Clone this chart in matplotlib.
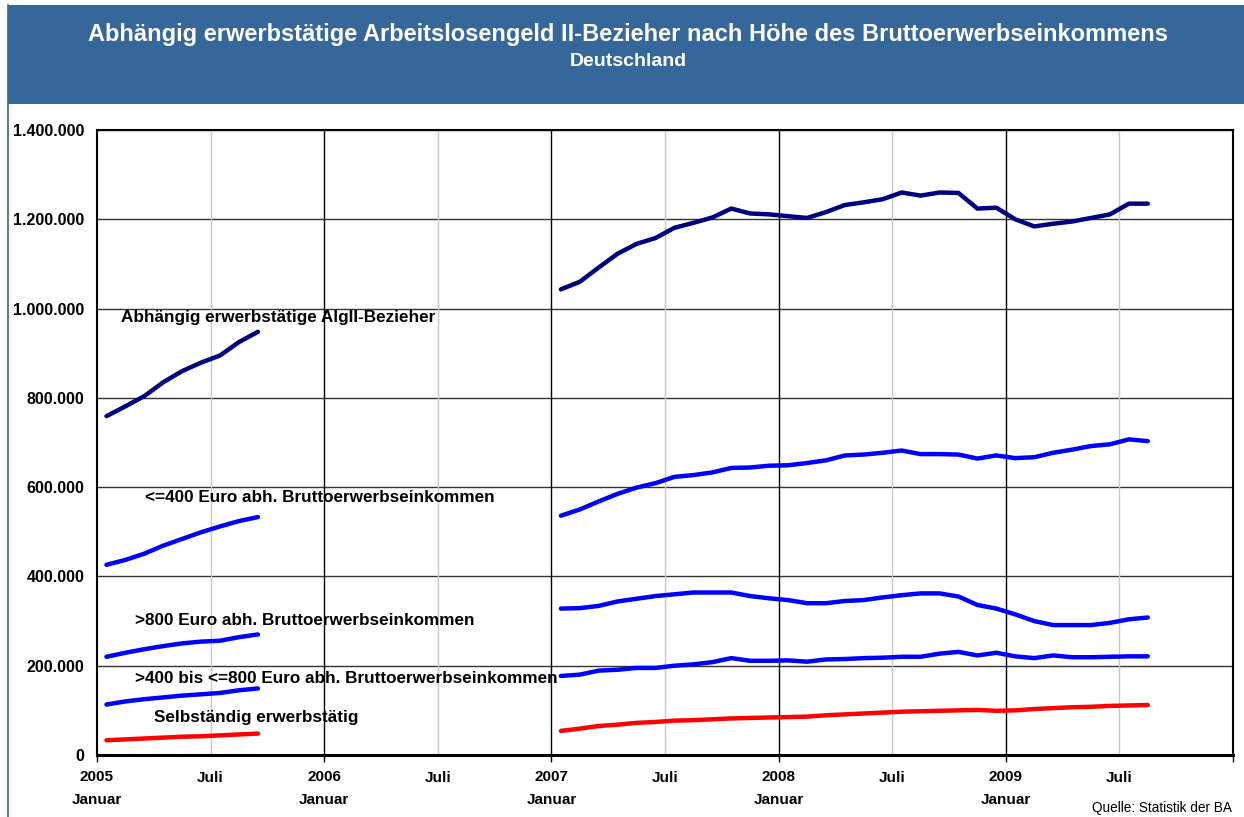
import numpy as np
import matplotlib
matplotlib.use("Agg")
import matplotlib.pyplot as plt
from matplotlib.patches import Rectangle
from matplotlib.lines import Line2D
from matplotlib.ticker import FuncFormatter, FixedLocator

plt.rcParams['font.family'] = ['Liberation Sans', 'DejaVu Sans']

# ---------------- data ----------------
# month index 0 = Jan 2005
start_a = 0      # Jan 2005
start_b = 24     # Jan 2007

algii_a = [759000, 781000, 804000, 835000, 860000, 879000, 895000, 925000, 948000]
le400_a = [426000, 437000, 451000, 469000, 484000, 499000, 512000, 524000, 533000]
gt800_a = [220000, 229000, 237000, 244000, 250000, 254000, 256000, 264000, 270000]
mid_a = [113000, 120000, 125000, 129000, 133000, 136000, 139000, 145000, 149000]
selb_a = [33000, 35000, 37000, 39000, 41000, 42000, 44000, 46000, 48000]

algii_b = [1043000, 1060000, 1092000, 1123000, 1145000, 1158000, 1181000, 1192000,
           1204000, 1224000, 1213000, 1211000, 1207000, 1203000, 1216000, 1232000,
           1238000, 1245000, 1260000, 1253000, 1260000, 1259000, 1224000, 1226000,
           1200000, 1184000, 1190000, 1195000, 1203000, 1211000, 1235000, 1235000]
le400_b = [536000, 550000, 568000, 585000, 599000, 609000, 623000, 627000,
           633000, 643000, 644000, 648000, 649000, 654000, 660000, 671000,
           673000, 677000, 682000, 674000, 674000, 673000, 664000, 671000,
           665000, 667000, 677000, 684000, 692000, 696000, 707000, 703000]
gt800_b = [328000, 329000, 334000, 344000, 350000, 356000, 360000, 364000,
           364000, 364000, 356000, 351000, 347000, 340000, 340000, 345000,
           347000, 353000, 358000, 362000, 362000, 355000, 336000, 328000,
           315000, 300000, 291000, 291000, 291000, 296000, 304000, 308000]
mid_b = [177000, 180000, 189000, 191000, 195000, 195000, 200000, 203000,
         208000, 217000, 211000, 211000, 212000, 209000, 214000, 215000,
         217000, 218000, 220000, 220000, 227000, 231000, 223000, 229000,
         221000, 217000, 223000, 219000, 219000, 220000, 221000, 221000]
selb_b = [54000, 59000, 65000, 68000, 72000, 74000, 77000, 78000,
          80000, 82000, 83000, 84000, 85000, 86000, 89000, 91000,
          93000, 95000, 97000, 98000, 99000, 100000, 101000, 99000,
          100000, 103000, 105000, 107000, 108000, 110000, 111000, 112000]

years = ["2005", "2006", "2007", "2008", "2009"]
year_sub = "Januar"
mid_label = "Juli"

series_labels = ["Abhängig erwerbstätige AlgII-Bezieher",
                 "<=400 Euro abh. Bruttoerwerbseinkommen",
                 ">800 Euro abh. Bruttoerwerbseinkommen",
                 ">400 bis <=800 Euro abh. Bruttoerwerbseinkommen",
                 "Selbständig erwerbstätig"]

title = "Abhängig erwerbstätige Arbeitslosengeld II-Bezieher nach Höhe des Bruttoerwerbseinkommens"
subtitle = "Deutschland"
source = "Quelle: Statistik der BA"

# ---------------- figure ----------------
W, H = 1244, 817
fig = plt.figure(figsize=(W / 100, H / 100), dpi=100)
fig.patch.set_facecolor('white')

banner_col = '#35679A'
fig.patches.append(Rectangle((8 / W, 1 - 104 / H), 1, 99 / H, transform=fig.transFigure,
                             facecolor=banner_col, edgecolor='none', zorder=0))
fig.lines.append(Line2D([8 / W, 8 / W], [0, 1 - 5 / H], transform=fig.transFigure,
                        color=banner_col, lw=1.2))
fig.text(628 / W, 1 - 35 / H, title, color='white', fontsize=17, fontweight='bold',
         ha='center', va='center')
fig.text(628 / W, 1 - 62 / H, subtitle, color='white', fontsize=14, fontweight='bold',
         ha='center', va='center')

ax = fig.add_axes([97 / W, 1 - 755 / H, (1233 - 97) / W, (755 - 130) / H])
ax.set_xlim(0, 60)
ax.set_ylim(0, 1400000)

# grid
for yv in range(200000, 1400001, 200000):
    ax.axhline(yv, color='#333333', lw=1.0, zorder=1)
for i in range(1, 5):
    ax.axvline(12 * i, color='black', lw=1.0, zorder=1)
for i in range(5):
    ax.axvline(12 * i + 6, color='#C8C8C8', lw=1.0, zorder=1)

navy, blue, red = '#000080', '#0000FF', '#FF0000'
lw = 3.2
xa = np.arange(len(algii_a)) + start_a + 0.5
xb = np.arange(len(algii_b)) + start_b + 0.5
for ya, yb, c in [(algii_a, algii_b, navy), (le400_a, le400_b, blue),
                  (gt800_a, gt800_b, blue), (mid_a, mid_b, blue),
                  (selb_a, selb_b, red)]:
    ax.plot(xa, ya, color=c, lw=lw, solid_capstyle='round', solid_joinstyle='round', zorder=3)
    ax.plot(xb, yb, color=c, lw=lw, solid_capstyle='round', solid_joinstyle='round', zorder=3)

# labels on series (data coords)
label_pos = [(1.27, 979000), (2.54, 576000), (2.0, 302000), (2.0, 172000), (3.0, 84000)]
for (lx, ly), txt in zip(label_pos, series_labels):
    ax.text(lx, ly, txt, fontsize=12.3, fontweight='bold', ha='left', va='center', zorder=4)

# axes style
for s in ['left', 'right', 'top']:
    ax.spines[s].set_linewidth(1.5)
    ax.spines[s].set_color('black')
ax.spines['bottom'].set_linewidth(2.2)

ax.yaxis.set_major_locator(FixedLocator(list(range(0, 1400001, 200000))))
ax.yaxis.set_major_formatter(FuncFormatter(lambda v, p: f"{int(v):,}".replace(",", ".")))
ax.tick_params(axis='y', length=0, pad=9, labelsize=11.5)
for t in ax.get_yticklabels():
    t.set_fontweight('bold')

ax.set_xticks([12 * i for i in range(5)] + [60])
ax.set_xticklabels([f"{y}\n{year_sub}" for y in years] + [""], fontsize=11,
                   fontweight='bold', linespacing=1.75)
ax.set_xticks([12 * i + 6 for i in range(5)], minor=True)
ax.set_xticklabels([mid_label] * 5, minor=True, fontsize=11, fontweight='bold')
ax.tick_params(axis='x', which='major', length=5, width=1, pad=6)
ax.tick_params(axis='x', which='minor', length=0, pad=11.5)

fig.text(1232 / W, 1 - 808 / H, source, fontsize=9.8, ha='right', va='center')

fig.savefig("out.png", dpi=100)
